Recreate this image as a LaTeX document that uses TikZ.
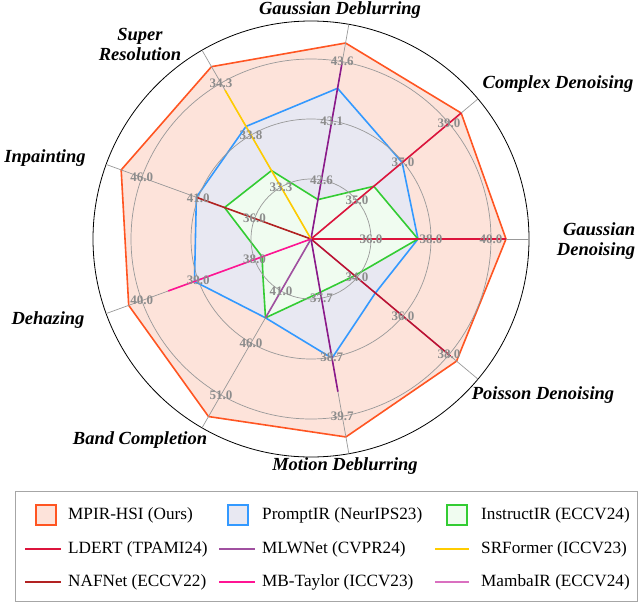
\documentclass[tikz,border=0pt]{standalone}
\usepackage{fontspec}
\setmainfont{Liberation Serif}
\begin{document}
\begin{tikzpicture}[x=1pt,y=-1pt,
  lab/.style={font=\fontsize{18.5}{20}\selectfont\bfseries\itshape,align=center},
  tick/.style={font=\fontsize{13}{14}\selectfont\bfseries,text=gray!90},
  grid/.style={draw=gray!80,line width=0.7pt},
  leg/.style={font=\fontsize{17.2}{19}\selectfont,anchor=west,inner sep=0pt},
  ray/.style={line width=1.6pt}]
\definecolor{cMP}{HTML}{FF5522}\definecolor{fMP}{HTML}{FDE3DA}
\definecolor{cPR}{HTML}{3399FF}\definecolor{fPR}{HTML}{E8E8F2}
\definecolor{cIN}{HTML}{33CC33}\definecolor{fIN}{HTML}{F0FCF0}
\definecolor{cLD}{HTML}{DC143C}\definecolor{cML}{HTML}{8B1A8B}
\definecolor{cSR}{HTML}{FFCC00}\definecolor{cNA}{HTML}{B22222}
\definecolor{cMB}{HTML}{FF1493}\definecolor{cMA}{HTML}{DA70C0}
\definecolor{cML2}{HTML}{A050A0}
\useasboundingbox (0,0) rectangle (640,603);
\coordinate (O) at (311,239);
\begin{scope}[shift={(O)},y=1pt]
% polygons
\filldraw[fill=fMP,draw=cMP,line width=1.6pt,line join=round]
 (0:195)--(40:196)--(80:199)--(120:199)--(160:202)--(200:194)--(240:205)--(280:201)--(320:190)--cycle;
\filldraw[fill=fPR,draw=cPR,line width=1.6pt,line join=round]
 (0:107)--(40:119)--(80:153)--(120:130)--(160:122)--(200:124)--(240:91)--(280:121)--(320:84)--cycle;
\filldraw[fill=fIN,draw=cIN,line width=1.6pt,line join=round]
 (0:107)--(40:82)--(80:40)--(120:79)--(160:92)--(200:52)--(218:61)--(240:91)--(280:54)--(320:57)--cycle;
% grid
\foreach \r in {60,120,180} \draw[grid] (0,0) circle (\r);
\draw[black,line width=0.8pt] (0,0) circle (218);
\foreach \a in {0,40,...,320} \draw[grid] (0,0)--(\a:218);
% rays
\draw[ray,cLD] (0,0)--(0:195);
\draw[ray,cLD] (0,0)--(40:196);
\draw[ray,cLD!85!black] (0,0)--(320:182);
\draw[ray,cNA] (0,0)--(160:122);
\draw[ray,cML] (0,0)--(80:180);
\draw[ray,cML] (0,0)--(280:155);
\draw[ray,cSR] (0,0)--(120:172);
\draw[ray,cMB] (0,0)--(200:152);
\draw[ray,cML2] (0,0)--(240:91);
% ticks
\foreach \a/\x/\y/\z in {0/36.0/38.0/40.0, 40/35.0/37.0/39.0, 80/42.6/43.1/43.6,
  120/33.3/33.8/34.3, 160/36.0/41.0/46.0, 200/38.0/39.0/40.0, 240/41.0/46.0/51.0,
  280/37.7/38.7/39.7, 320/34.0/36.0/38.0}{
  \node[tick] at (\a:60) {\x};
  \node[tick] at (\a:120) {\y};
  \node[tick] at (\a:180) {\z};}
\end{scope}
% axis labels
\node[lab] (l1) at (340,10) {Gaussian Deblurring};
\node[lab] (l2) at (558,84) {Complex Denoising};
\node[lab,align=right] (l3) at (596,241) {Gaussian\\Denoising};
\node[lab] (l4) at (543,395) {Poisson Denoising};
\node[lab] (l5) at (345,466) {Motion Deblurring};
\node[lab] (l6) at (140,440) {Band Completion};
\node[lab] (l7) at (48,320) {Dehazing};
\node[lab] (l8) at (45,158) {Inpainting};
\node[lab] (l9) at (140,44) {Super\\Resolution};
% legend
\draw[gray!70,line width=0.8pt] (15,491) rectangle (637,601);
\node[draw=cMP,fill=fMP,line width=1.6pt,minimum size=20pt,inner sep=0pt] (s1) at (46,515) {};
\node[draw=cPR,fill=fPR,line width=1.6pt,minimum size=20pt,inner sep=0pt] (s2) at (238,515) {};
\node[draw=cIN,fill=fIN,line width=1.6pt,minimum size=20pt,inner sep=0pt] (s3) at (457,515) {};
\node[leg] (t1) at (68,515) {MPIR-HSI (Ours)};
\node[leg] (t2) at (262,515) {PromptIR (NeurIPS23)};
\node[leg] (t3) at (481,515) {InstructIR (ECCV24)};
\coordinate (a1) at (25,549); \coordinate (b1) at (61,549);
\coordinate (a2) at (219,549); \coordinate (b2) at (255,549);
\coordinate (a3) at (435,549); \coordinate (b3) at (469,549);
\coordinate (c1) at (25,582); \coordinate (d1) at (61,582);
\coordinate (c2) at (219,582); \coordinate (d2) at (255,582);
\coordinate (c3) at (435,582); \coordinate (d3) at (469,582);
\draw[cLD,line width=1.8pt] (a1)--(b1);
\draw[cML2,line width=1.8pt] (a2)--(b2);
\draw[cSR,line width=1.8pt] (a3)--(b3);
\draw[cNA,line width=1.8pt] (c1)--(d1);
\draw[cMB,line width=1.8pt] (c2)--(d2);
\draw[cMA,line width=1.8pt] (c3)--(d3);
\node[leg] (t4) at (68,549) {LDERT (TPAMI24)};
\node[leg] (t5) at (262,549) {MLWNet (CVPR24)};
\node[leg] (t6) at (481,549) {SRFormer (ICCV23)};
\node[leg] (t7) at (68,582) {NAFNet (ECCV22)};
\node[leg] (t8) at (262,582) {MB-Taylor (ICCV23)};
\node[leg] (t9) at (481,582) {MambaIR (ECCV24)};
\end{tikzpicture}
\end{document}
